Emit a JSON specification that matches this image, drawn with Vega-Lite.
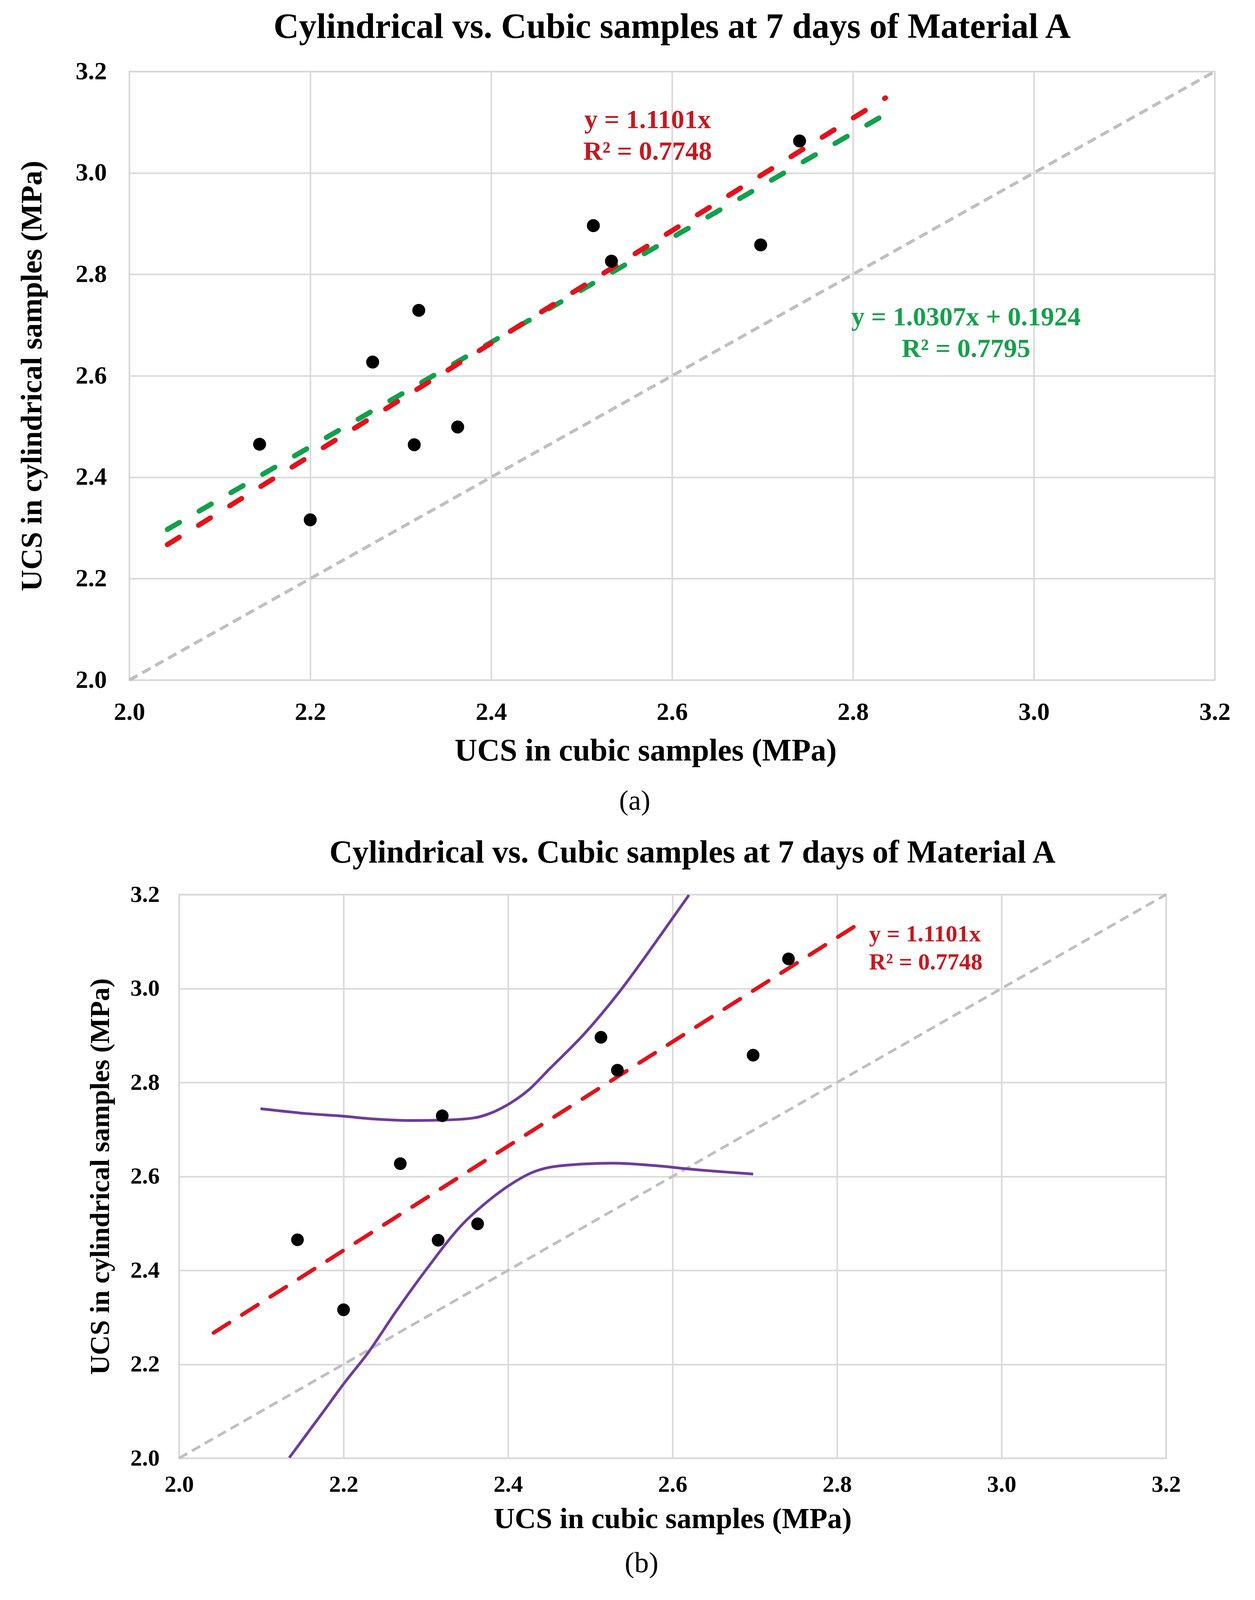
{
  "$schema": "https://vega.github.io/schema/vega-lite/v6.json",
  "description": "UCS of cylindrical vs cubic samples at 7 days, Material A: (a) with both trend lines, (b) with the prediction band",
  "background": "white",
  "padding": {"left": 42, "top": 23, "right": 0, "bottom": 0},
  "config": {
    "font": "Liberation Serif",
    "view": {"stroke": "#D9D9D9", "strokeWidth": 4},
    "axis": {
      "grid": true,
      "gridColor": "#D9D9D9",
      "gridWidth": 4,
      "domain": false,
      "ticks": false,
      "labelFlush": false,
      "labelFont": "Liberation Serif",
      "labelFontWeight": "bold",
      "labelColor": "black",
      "titleFont": "Liberation Serif",
      "titleFontWeight": "bold",
      "titleColor": "black"
    },
    "title": {"font": "Liberation Serif", "fontWeight": "bold", "color": "black"}
  },
  "datasets": {
    "samples": [
      {"cubic": 2.144, "cylindrical": 2.465},
      {"cubic": 2.200, "cylindrical": 2.316},
      {"cubic": 2.269, "cylindrical": 2.627},
      {"cubic": 2.320, "cylindrical": 2.729},
      {"cubic": 2.315, "cylindrical": 2.464},
      {"cubic": 2.363, "cylindrical": 2.499},
      {"cubic": 2.513, "cylindrical": 2.896},
      {"cubic": 2.533, "cylindrical": 2.826},
      {"cubic": 2.698, "cylindrical": 2.858},
      {"cubic": 2.741, "cylindrical": 3.063}
    ],
    "equality": [
      {"cubic": 2.0, "cylindrical": 2.0},
      {"cubic": 3.2, "cylindrical": 3.2}
    ],
    "trend_origin_a": [
      {"cubic": 2.042, "cylindrical": 2.267},
      {"cubic": 2.836, "cylindrical": 3.148}
    ],
    "trend_linear_a": [
      {"cubic": 2.042, "cylindrical": 2.297},
      {"cubic": 2.844, "cylindrical": 3.124}
    ],
    "trend_origin_b": [
      {"cubic": 2.042, "cylindrical": 2.267},
      {"cubic": 2.832, "cylindrical": 3.144}
    ],
    "equations_a": [
      {"cubic": 2.573, "cylindrical": 3.104, "label": "y = 1.1101x", "fit": "through origin"},
      {"cubic": 2.573, "cylindrical": 3.041, "label": "R² = 0.7748", "fit": "through origin"},
      {"cubic": 2.925, "cylindrical": 2.715, "label": "y = 1.0307x + 0.1924", "fit": "linear"},
      {"cubic": 2.925, "cylindrical": 2.652, "label": "R² = 0.7795", "fit": "linear"}
    ],
    "equations_b": [
      {"cubic": 2.839, "cylindrical": 3.115, "label": "y = 1.1101x", "fit": "through origin"},
      {"cubic": 2.839, "cylindrical": 3.055, "label": "R² = 0.7748", "fit": "through origin"}
    ],
    "prediction": [
      {"band": "upper", "cubic": 2.099, "cylindrical": 2.744},
      {"band": "upper", "cubic": 2.153, "cylindrical": 2.734},
      {"band": "upper", "cubic": 2.200, "cylindrical": 2.728},
      {"band": "upper", "cubic": 2.238, "cylindrical": 2.722},
      {"band": "upper", "cubic": 2.281, "cylindrical": 2.719},
      {"band": "upper", "cubic": 2.323, "cylindrical": 2.720},
      {"band": "upper", "cubic": 2.357, "cylindrical": 2.724},
      {"band": "upper", "cubic": 2.378, "cylindrical": 2.734},
      {"band": "upper", "cubic": 2.399, "cylindrical": 2.752},
      {"band": "upper", "cubic": 2.425, "cylindrical": 2.784},
      {"band": "upper", "cubic": 2.450, "cylindrical": 2.828},
      {"band": "upper", "cubic": 2.493, "cylindrical": 2.904},
      {"band": "upper", "cubic": 2.535, "cylindrical": 2.992},
      {"band": "upper", "cubic": 2.578, "cylindrical": 3.095},
      {"band": "upper", "cubic": 2.620, "cylindrical": 3.199},
      {"band": "lower", "cubic": 2.134, "cylindrical": 2.001},
      {"band": "lower", "cubic": 2.175, "cylindrical": 2.098},
      {"band": "lower", "cubic": 2.200, "cylindrical": 2.158},
      {"band": "lower", "cubic": 2.230, "cylindrical": 2.225},
      {"band": "lower", "cubic": 2.264, "cylindrical": 2.313},
      {"band": "lower", "cubic": 2.302, "cylindrical": 2.405},
      {"band": "lower", "cubic": 2.344, "cylindrical": 2.497},
      {"band": "lower", "cubic": 2.374, "cylindrical": 2.545},
      {"band": "lower", "cubic": 2.399, "cylindrical": 2.578},
      {"band": "lower", "cubic": 2.429, "cylindrical": 2.608},
      {"band": "lower", "cubic": 2.472, "cylindrical": 2.624},
      {"band": "lower", "cubic": 2.527, "cylindrical": 2.628},
      {"band": "lower", "cubic": 2.578, "cylindrical": 2.623},
      {"band": "lower", "cubic": 2.624, "cylindrical": 2.615},
      {"band": "lower", "cubic": 2.698, "cylindrical": 2.605}
    ]
  },
  "spacing": 53,
  "center": true,
  "vconcat": [
    {
      "title": {"text": "(a)", "orient": "bottom", "anchor": "middle", "fontWeight": "normal", "fontSize": 72, "offset": 52, "dx": 28},
      "vconcat": [
        {
          "title": {"text": "Cylindrical vs. Cubic samples at 7 days of Material A", "fontSize": 90, "offset": 35},
          "width": 2778,
          "height": 1558,
          "encoding": {
            "x": {
              "field": "cubic",
              "type": "quantitative",
              "scale": {"domain": [2.0, 3.2], "nice": false, "zero": false},
              "axis": {
                "title": "UCS in cubic samples (MPa)",
                "values": [2.0, 2.2, 2.4, 2.6, 2.8, 3.0, 3.2],
                "format": ".1f",
                "labelFontSize": 64,
                "labelPadding": 50,
                "titleFontSize": 80,
                "titlePadding": 28,
                "titleX": 1321
              }
            },
            "y": {
              "field": "cylindrical",
              "type": "quantitative",
              "scale": {"domain": [2.0, 3.2], "nice": false, "zero": false},
              "axis": {
                "title": "UCS in cylindrical samples (MPa)",
                "values": [2.0, 2.2, 2.4, 2.6, 2.8, 3.0, 3.2],
                "format": ".1f",
                "labelFontSize": 64,
                "labelPadding": 58,
                "titleFontSize": 76,
                "titlePadding": 72
              }
            }
          },
          "layer": [
            {
              "data": {"name": "equality"},
              "mark": {"type": "line", "color": "#BFBFBF", "strokeWidth": 8, "strokeDash": [24, 14]},
              "encoding": {}
            },
            {
              "data": {"name": "trend_linear_a"},
              "mark": {"type": "line", "color": "#12A04B", "strokeWidth": 13, "strokeDash": [36, 58], "strokeCap": "round"},
              "encoding": {}
            },
            {
              "data": {"name": "trend_origin_a"},
              "mark": {"type": "line", "color": "#E3121B", "strokeWidth": 13, "strokeDash": [36, 58], "strokeCap": "round"},
              "encoding": {}
            },
            {
              "data": {"name": "samples"},
              "mark": {"type": "circle", "color": "black", "opacity": 1, "size": 1100}
            },
            {
              "data": {"name": "equations_a"},
              "mark": {"type": "text", "fontSize": 68, "fontWeight": "bold", "align": "center", "baseline": "middle"},
              "encoding": {
                "text": {"field": "label", "type": "nominal"},
                "color": {
                  "field": "fit",
                  "type": "nominal",
                  "scale": {"domain": ["through origin", "linear"], "range": ["#C8171E", "#16A04C"]},
                  "legend": null
                }
              }
            }
          ]
        }
      ]
    },
    {
      "title": {"text": "(b)", "orient": "bottom", "anchor": "middle", "fontWeight": "normal", "fontSize": 74, "offset": 39, "dx": 20},
      "vconcat": [
        {
          "title": {"text": "Cylindrical vs. Cubic samples at 7 days of Material A", "fontSize": 82, "offset": 35, "dx": 51},
          "width": 2526,
          "height": 1443,
          "encoding": {
            "x": {
              "field": "cubic",
              "type": "quantitative",
              "scale": {"domain": [2.0, 3.2], "nice": false, "zero": false},
              "axis": {
                "title": "UCS in cubic samples (MPa)",
                "values": [2.0, 2.2, 2.4, 2.6, 2.8, 3.0, 3.2],
                "format": ".1f",
                "labelFontSize": 60,
                "labelPadding": 38,
                "titleFontSize": 75,
                "titlePadding": 22
              }
            },
            "y": {
              "field": "cylindrical",
              "type": "quantitative",
              "scale": {"domain": [2.0, 3.2], "nice": false, "zero": false},
              "axis": {
                "title": "UCS in cylindrical samples (MPa)",
                "values": [2.0, 2.2, 2.4, 2.6, 2.8, 3.0, 3.2],
                "format": ".1f",
                "labelFontSize": 60,
                "labelPadding": 50,
                "titleFontSize": 70,
                "titlePadding": 40
              }
            }
          },
          "layer": [
            {
              "data": {"name": "equality"},
              "mark": {"type": "line", "color": "#BFBFBF", "strokeWidth": 7, "strokeDash": [24, 14]},
              "encoding": {}
            },
            {
              "data": {"name": "prediction"},
              "mark": {"type": "line", "color": "#6E3B9E", "strokeWidth": 7, "interpolate": "monotone", "clip": true},
              "encoding": {"detail": {"field": "band", "type": "nominal"}}
            },
            {
              "data": {"name": "trend_origin_b"},
              "mark": {"type": "line", "color": "#E3121B", "strokeWidth": 10, "strokeDash": [48, 38], "strokeCap": "round"},
              "encoding": {}
            },
            {
              "data": {"name": "samples"},
              "mark": {"type": "circle", "color": "black", "opacity": 1, "size": 1050}
            },
            {
              "data": {"name": "equations_b"},
              "mark": {"type": "text", "fontSize": 60, "fontWeight": "bold", "align": "left", "baseline": "middle"},
              "encoding": {
                "text": {"field": "label", "type": "nominal"},
                "color": {
                  "field": "fit",
                  "type": "nominal",
                  "scale": {"domain": ["through origin", "linear"], "range": ["#C8171E", "#16A04C"]},
                  "legend": null
                }
              }
            }
          ]
        }
      ]
    }
  ]
}
